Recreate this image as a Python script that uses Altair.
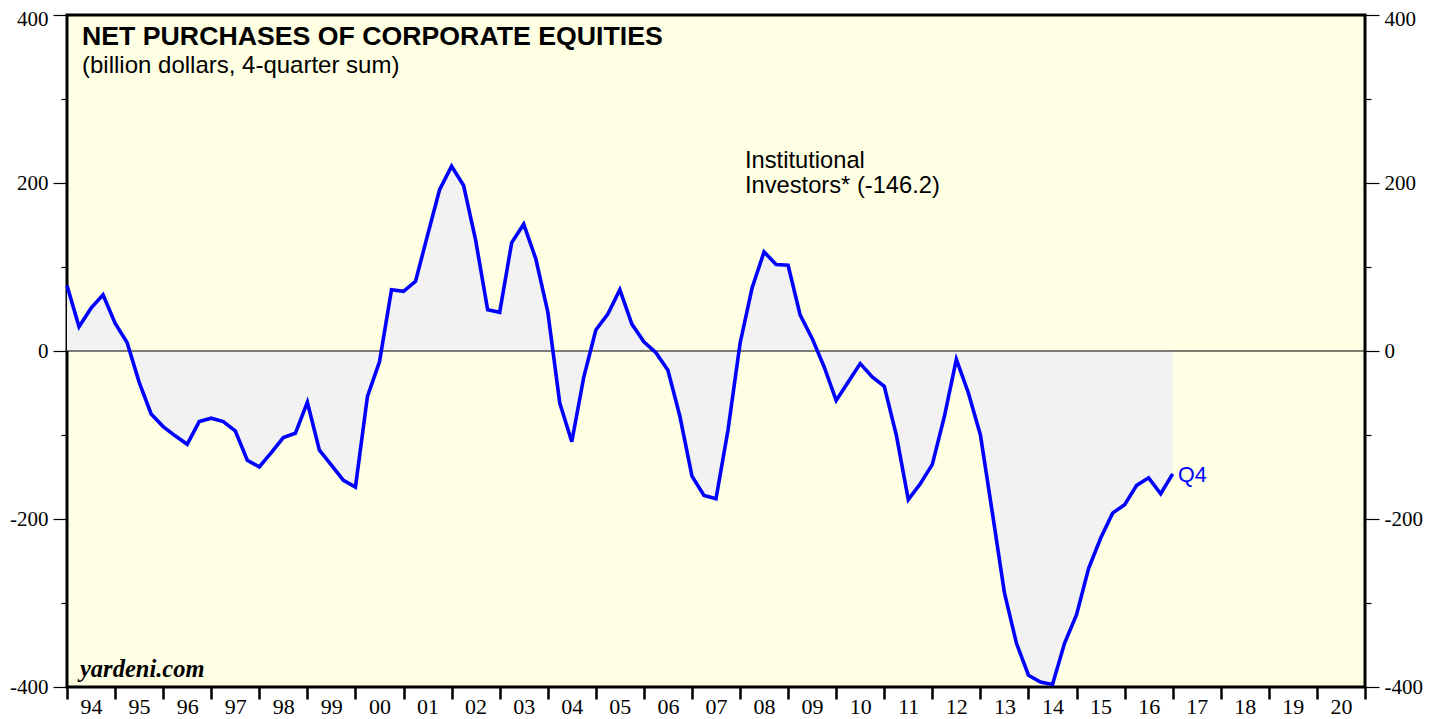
import altair as alt
import pandas as pd

# Net purchases of corporate equities, institutional investors (billion $, 4-quarter sum)
# quarterly, 1993 Q4 .. 2016 Q4 (plotted at quarter end)
first_year, first_q = 1993, 4
values = [
    78, 29, 51, 67, 33, 10, -37, -75, -90, -101,
    -111, -84, -80, -84, -95, -130, -138, -121, -103, -98,
    -61, -118, -136, -154, -162, -54, -13, 73, 71, 83,
    138, 192, 220, 197, 132, 49, 46, 129, 151, 110,
    47, -62, -108, -31, 25, 44, 73, 32, 11, -2,
    -23, -78, -149, -172, -176, -94, 9, 75, 118, 103,
    102, 43, 15, -19, -59, -37, -15, -31, -42, -100,
    -177, -158, -135, -78, -10, -50, -100, -193, -288, -348,
    -386, -394, -397, -348, -314, -259, -223, -193, -183, -160,
    -151, -170, -146.2,
]

quarters = []
y, q = first_year, first_q
for _ in values:
    quarters.append((y, q))
    q += 1
    if q > 4:
        q, y = 1, y + 1

year_ticks = list(range(1994, 2022))
y_ticks = list(range(-400, 401, 100))

df = pd.DataFrame({
    "t": [yy + qq / 4.0 for yy, qq in quarters],
    "v": values,
})

W, H = 1298, 672
SERIF = "Liberation Serif"
SANS = "Liberation Sans"

xscale = alt.Scale(domain=[1994, 2021], nice=False, zero=False)
yscale = alt.Scale(domain=[-400, 400], nice=False, zero=False)

x_axis = alt.Axis(
    values=year_ticks,
    labelExpr="datum.value < 2021 ? slice(toString(datum.value), 2) : ''",
    labelOffset=24, labelAlign="center", labelBaseline="top",
    labelPadding=-3, labelFont=SERIF, labelFontSize=22, labelColor="black",
    labelFlush=False, labelOverlap=False,
    tickSize=12, tickWidth=2.5, tickColor="black",
    domain=False, grid=False, title=None,
)

def y_axis(orient):
    return alt.Axis(
        orient=orient,
        values=y_ticks,
        labelExpr="datum.value % 200 === 0 ? toString(datum.value) : ''",
        labelFont=SERIF, labelFontSize=21, labelColor="black",
        labelPadding=5, labelOverlap=False, labelFlush=False,
        labelOffset={"condition": {"test": "datum.value === 400", "value": 4}, "value": 0},
        tickSize={"condition": {"test": "datum.value % 200 === 0", "value": 14}, "value": 6},
        tickWidth=1.2, tickColor="black",
        domain=False, grid=False, title=None,
    )

X = alt.X("t:Q", scale=xscale, axis=x_axis)

area = alt.Chart(df).mark_area(color="#F2F2F2", opacity=1).encode(
    x=X,
    y=alt.Y("v:Q", scale=yscale, axis=y_axis("left")),
    y2=alt.datum(0),
)

zero = alt.Chart(pd.DataFrame({"v": [0]})).mark_rule(color="black", strokeWidth=1).encode(
    y=alt.Y("v:Q", scale=yscale, axis=y_axis("left")),
)

line = alt.Chart(df).mark_line(color="#0000FF", strokeWidth=3.6, strokeJoin="miter").encode(
    x=X,
    y=alt.Y("v:Q", scale=yscale, axis=y_axis("left")),
)

def label(txt, x, y, size, font=SANS, weight="normal", style="normal", color="black", align="left"):
    return alt.Chart(pd.DataFrame({"s": [txt]})).mark_text(
        font=font, fontSize=size, fontWeight=weight, fontStyle=style,
        color=color, align=align, baseline="alphabetic",
    ).encode(x=alt.value(x), y=alt.value(y), text="s:N")

title = label("NET PURCHASES OF CORPORATE EQUITIES", 15, 30, 26.7, weight="bold")
subtitle = label("(billion dollars, 4-quarter sum)", 15, 58, 24)
inst1 = label("Institutional", 678, 153, 23.7)
inst2 = label("Investors* (-146.2)", 678, 178, 23.7)
q4 = label("Q4", 1111, 467, 21.5, color="#0000FF")
brand = label("yardeni.com", 13, 662, 24.5, font=SERIF, weight="bold", style="italic")

left = alt.layer(area, zero, line, title, subtitle, inst1, inst2, q4, brand)

right = alt.Chart(df).mark_line(opacity=0).encode(
    x=X,
    y=alt.Y("v:Q", scale=yscale, axis=y_axis("right")),
)

chart = alt.layer(left, right).resolve_scale(y="independent").properties(
    width=W, height=H,
    autosize=alt.AutoSizeParams(type="none"),
    padding={"left": 59, "top": 7, "right": 60, "bottom": 34},
    background="white",
).configure_view(stroke="black", strokeWidth=3, fill="#FFFFE3")

chart.save("out.html", embed_options={"renderer": "svg", "actions": False})
